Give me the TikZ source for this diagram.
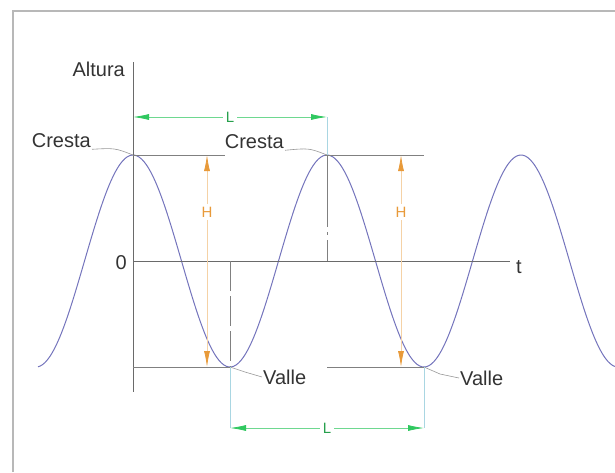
\documentclass[tikz,border=0pt]{standalone}
\usepackage{fontspec}
\setmainfont{Liberation Sans}
\usetikzlibrary{arrows.meta,positioning,calc}
\definecolor{wave}{HTML}{7474BC}
\definecolor{axis}{HTML}{6A6A6A}
\definecolor{lgreen}{HTML}{30C860}
\definecolor{lorange}{HTML}{E89A3A}
\definecolor{ext}{HTML}{A9D6E2}
\definecolor{frame}{HTML}{B8B8B8}

\begin{document}
\begin{tikzpicture}[x=1pt, y=-1pt,
  lbl/.style={font=\fontsize{20}{23}\selectfont, text=black!80, inner sep=1pt},
  dimlbl/.style={font=\fontsize{15}{18}\selectfont, inner sep=3pt},
  ax/.style={axis, line width=1pt},
  ln/.style={axis!85, line width=0.9pt},
  larr/.style={lgreen!70, line width=0.8pt, -{Latex[length=16pt,width=6pt,color=lgreen]}},
  harr/.style={lorange!45, line width=0.8pt, -{Latex[length=16pt,width=6pt,color=lorange]}},
  extl/.style={ext, line width=0.7pt}]
  \useasboundingbox (0,0) rectangle (615,472);
  \draw[frame, line width=2.5pt] (13,472) -- (13,11) -- (615,11);
  % points of the wave
  \coordinate (top) at (133,62);
  \coordinate (bot) at (133,392);
  \coordinate (o) at (133,261);
  \coordinate (tend) at (510,261);
  \coordinate (c1) at (133,155);
  \coordinate (c2) at (327,155);
  \coordinate (v1) at (230,367);
  \coordinate (v2) at (424,367);
  % the wave
  \draw[wave, line width=1pt, domain=38:615, samples=240, smooth]
    plot (\x, {261-106*cos(1.8557*(\x-133))});
  % axes
  \draw[ax] (top) -- (bot);
  \draw[ax] (o) -- (tend);
  \node[lbl, anchor=east] (alt) at (126,69) {Altura};
  \node[lbl, anchor=east] (zero) at (128,263) {0};
  \node[lbl, anchor=west] (t) at (515,267) {t};
  % crest and trough levels
  \coordinate (c1e) at (225,155);
  \coordinate (c2s) at (325,155);
  \coordinate (c2e) at (424,155);
  \coordinate (v2s) at (327,367);
  \draw[ln] (c1) -- (c1e);
  \draw[ln] (c2s) -- (c2e);
  \draw[ln] (o |- v1) -- (v1);
  \draw[ln] (v2s) -- (v2);
  \coordinate (c2o) at (c2 |- o);
  \coordinate (v1o) at (v1 |- o);
  \draw[ln, dash pattern=on 72pt off 5pt on 3pt off 5pt] (c2) -- (c2o);
  \draw[ln, dash pattern=on 30pt off 5pt] (v1o) -- (v1);
  % labels
  \node[lbl, anchor=east] (cr1) at (92,141) {Cresta};
  \node[lbl, anchor=east] (cr2) at (285,142) {Cresta};
  \node[lbl, anchor=west] (va1) at (262,377) {Valle};
  \node[lbl, anchor=west] (va2) at (459,378) {Valle};
  \draw[axis!70, line width=0.6pt] (cr1.south east) .. controls (115,148) .. (c1);
  \draw[axis!70, line width=0.6pt] (cr2.south east) .. controls (309,148) .. (c2);
  \draw[axis!70, line width=0.6pt] (v1) -- (245,372) -- (va1.west);
  \draw[axis!70, line width=0.6pt] (v2) -- (440,374) -- (va2.west);
  % wave length L
  \coordinate (l1a) at (133,117);
  \coordinate (l1b) at (327,117);
  \coordinate (l2a) at (230,428);
  \coordinate (l2b) at (424,428);
  \draw[extl] (l1b) -- (c2);
  \draw[extl] (v1) -- (l2a);
  \draw[extl] (v2) -- (l2b);
  \node[dimlbl, text=lgreen!80!black] (lt) at (230,117) {L};
  \node[dimlbl, text=lgreen!80!black] (lb) at (327,428) {L};
  \draw[larr] (lt) -- (l1a);
  \draw[larr] (lt) -- (l1b);
  \draw[larr] (lb) -- (l2a);
  \draw[larr] (lb) -- (l2b);
  % height H
  \node[dimlbl, text=lorange] (h1) at (207,212) {H};
  \node[dimlbl, text=lorange] (h2) at (401,212) {H};
  \draw[harr] (h1) -- (207,155);
  \draw[harr] (h1) -- (207,367);
  \draw[harr] (h2) -- (401,155);
  \draw[harr] (h2) -- (401,367);
\end{tikzpicture}
\end{document}
